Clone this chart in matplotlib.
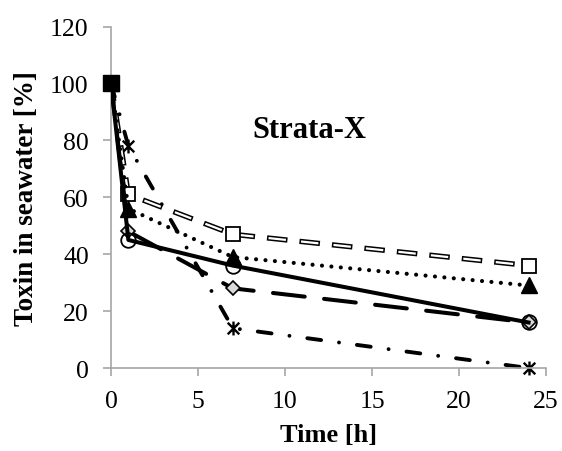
import matplotlib
matplotlib.use('Agg')
import matplotlib.pyplot as plt
from matplotlib.path import Path

plt.rcParams['font.family'] = ['Liberation Serif', 'DejaVu Serif']
plt.rcParams['lines.scale_dashes'] = False

# data
time = [0, 1, 7, 24]
sq_vals = [100, 61, 47, 36]
tri_vals = [100, 56, 39, 29]
dia_vals = [100, 48, 28, 16]
circ_vals = [100, 45, 36, 16]
star_vals = [100, 78, 14, 0]

xticks = [0, 5, 10, 15, 20, 25]
yticks = [0, 20, 40, 60, 80, 100, 120]

# excel-style asterisk marker (x with a vertical bar)
star_marker = Path([(-1, -1), (1, 1), (-1, 1), (1, -1), (0, -1.2), (0, 1.2)],
                   [Path.MOVETO, Path.LINETO, Path.MOVETO, Path.LINETO, Path.MOVETO, Path.LINETO])

fig = plt.figure(figsize=(5.62, 4.52), dpi=100)
ax = fig.add_axes([0.1975, 0.1836, 0.774, 0.7554])

# star series - dash dot
ax.plot(time, star_vals, color='black', lw=2.8, linestyle=(0, (10, 13, 0.01, 13)),
        dash_capstyle='round', marker=star_marker, ms=10, mew=1.7, mec='black',
        zorder=2, clip_on=False)

# open square - hollow dashes (black outline + white inside)
ax.plot(time, sq_vals, color='black', lw=3.8, linestyle=(0, (11, 12.5)),
        dash_capstyle='projecting', zorder=3)
ax.plot(time, sq_vals, color='white', lw=1.6, linestyle=(0, (11, 12.5)),
        dash_capstyle='projecting', marker='s', ms=10, mfc='white', mec='black', mew=1.3, zorder=3.1)

# filled triangle - dotted
ax.plot(time, tri_vals, color='black', lw=3.0, linestyle=(0, (0.01, 6.8)),
        dash_capstyle='round', marker='^', ms=11, mfc='black', mec='black', zorder=4)

# grey diamond - long dash
ax.plot(time, dia_vals, color='black', lw=2.9, linestyle=(0, (23, 14)),
        dash_capstyle='round', marker='D', ms=7.5, mfc='#d9d9d9', mec='black', mew=1.2, zorder=5)

# open circle - solid
ax.plot(time, circ_vals, color='black', lw=2.9, marker='o', ms=10.5,
        mfc='none', mec='black', mew=1.3, zorder=6)

# black square on top at start
ax.plot(time[:1], sq_vals[:1], marker='s', ms=11, color='black', zorder=7, clip_on=False)

ax.set_xlim(0, 25)
ax.set_ylim(0, 120)
ax.set_xticks(xticks)
ax.set_yticks(yticks)
for s in ['top', 'right']:
    ax.spines[s].set_visible(False)
for s in ['left', 'bottom']:
    ax.spines[s].set_color('#a6a6a6')
    ax.spines[s].set_linewidth(1.2)
ax.tick_params(axis='both', colors='#a6a6a6', labelcolor='black', labelsize=18.5,
               length=6, width=1.2, direction='out')
ax.tick_params(axis='y', pad=10)
ax.tick_params(axis='x', pad=10)

ax.set_xlabel('Time [h]', fontsize=19, fontweight='bold', labelpad=8)
ax.set_ylabel('Toxin in seawater [%]', fontsize=19.5, fontweight='bold', labelpad=8)
ax.text(0.455, 0.70, 'Strata-X', transform=ax.transAxes, fontsize=22,
        fontweight='bold', ha='center', va='center')

fig.savefig('out.png', dpi=100)
